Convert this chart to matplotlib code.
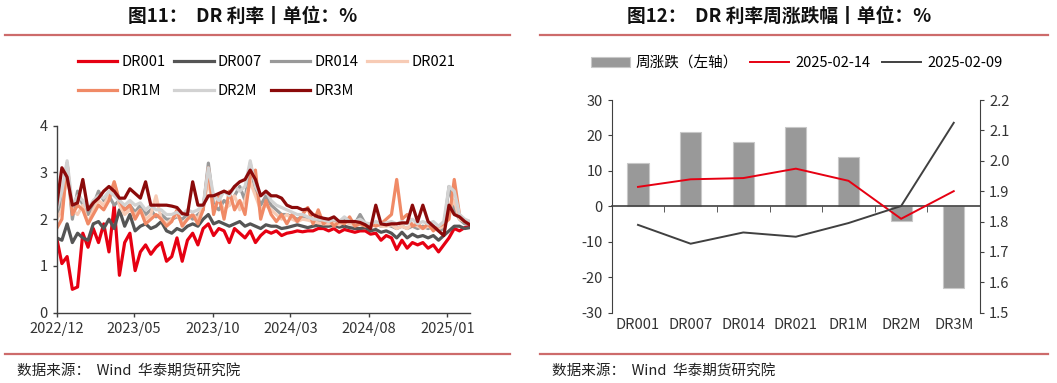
import numpy as np
import pandas as pd
import matplotlib
matplotlib.use("Agg")
import matplotlib.pyplot as plt
import matplotlib.dates as mdates
from matplotlib.lines import Line2D

plt.rcParams['font.family'] = ['Noto Sans CJK SC', 'DejaVu Sans']
plt.rcParams['axes.unicode_minus'] = False

# ---- 左图：DR 利率（约每 10 天取一个读数）----
dates = pd.date_range("2022-12-01", "2025-02-14", periods=80)

dr001 = [1.6, 1.05, 1.2, 0.5, 0.55, 1.7, 1.4, 1.8, 1.5, 1.9,
         1.3, 2.3, 0.8, 1.5, 1.7, 0.9, 1.3, 1.45, 1.25, 1.4,
         1.5, 1.1, 1.2, 1.6, 1.1, 1.55, 1.7, 1.45, 1.8, 1.9,
         1.65, 1.8, 1.75, 1.5, 1.8, 1.7, 1.6, 1.75, 1.5, 1.65,
         1.75, 1.7, 1.75, 1.65, 1.7, 1.72, 1.75, 1.73, 1.75, 1.75,
         1.8, 1.8, 1.75, 1.8, 1.72, 1.78, 1.75, 1.72, 1.75, 1.75,
         1.68, 1.7, 1.55, 1.65, 1.6, 1.35, 1.55, 1.38, 1.5, 1.45,
         1.5, 1.38, 1.45, 1.3, 1.45, 1.6, 1.8, 1.75, 1.82, 1.85]
dr007 = [1.6, 1.55, 1.9, 1.5, 1.7, 1.6, 1.55, 1.9, 1.95, 1.8,
         2.0, 1.8, 2.2, 1.85, 2.1, 1.75, 1.85, 1.9, 1.8, 1.85,
         1.95, 1.75, 1.7, 1.8, 1.75, 1.85, 1.9, 1.85, 2.0, 2.1,
         1.9, 1.95, 1.9, 1.85, 1.9, 1.95, 1.85, 1.9, 1.85, 1.8,
         1.88, 1.85, 1.85, 1.8, 1.82, 1.85, 1.88, 1.85, 1.82, 1.85,
         1.87, 1.85, 1.85, 1.87, 1.83, 1.85, 1.82, 1.8, 1.8, 1.82,
         1.75, 1.78, 1.72, 1.75, 1.7, 1.6, 1.72, 1.6, 1.68, 1.62,
         1.65, 1.6, 1.65, 1.55, 1.65, 1.75, 1.85, 1.85, 1.8, 1.82]
dr014 = [2.1, 2.4, 3.2, 2.0, 2.6, 2.3, 2.1, 2.3, 2.6, 2.4,
         2.5, 2.3, 2.4, 2.2, 2.3, 2.15, 2.3, 2.1, 2.2, 2.05,
         2.1, 2.0, 2.0, 2.05, 2.0, 2.1, 2.0, 2.1, 2.2, 3.2,
         2.3, 2.2, 2.4, 2.3, 2.5, 2.7, 2.4, 3.2, 2.6, 2.3,
         2.5, 2.3, 2.2, 2.1, 2.1, 2.05, 2.0, 2.05, 2.0, 1.95,
         1.95, 1.95, 1.92, 1.95, 1.9, 2.0, 1.92, 1.9, 2.1, 1.9,
         1.85, 1.9, 1.85, 1.88, 1.85, 1.8, 1.85, 1.8, 1.85, 1.8,
         1.85, 1.8, 1.85, 1.75, 1.8, 2.7, 2.2, 2.0, 1.9, 1.9]
dr021 = [2.0, 2.2, 3.0, 2.2, 2.1, 2.3, 1.9, 2.2, 2.4, 2.3,
         2.5, 2.8, 2.3, 2.1, 2.2, 2.1, 2.2, 2.0, 2.1, 2.5,
         2.0, 1.9, 2.0, 2.1, 1.9, 2.0, 2.1, 2.0, 2.3, 2.8,
         2.2, 2.4, 2.2, 2.3, 2.5, 2.2, 2.4, 2.8, 2.5, 2.2,
         2.3, 2.2, 2.1, 2.0, 2.1, 2.0, 1.95, 2.0, 1.98, 1.95,
         1.92, 1.9, 1.9, 1.92, 1.88, 1.95, 1.9, 1.88, 1.95, 1.9,
         1.85, 1.9, 1.85, 1.85, 1.88, 1.8, 1.85, 1.8, 1.9, 1.85,
         1.8, 1.85, 1.8, 1.8, 1.85, 2.2, 2.4, 2.0, 1.95, 1.9]
dr1m = [1.8, 2.0, 3.2, 2.1, 2.3, 2.2, 1.9, 2.1, 2.3, 2.2,
        2.4, 2.8, 2.4, 2.2, 2.3, 2.0, 2.2, 1.9, 2.0, 2.1,
        2.0, 1.85, 1.95, 2.2, 1.85, 2.0, 2.1, 1.9, 2.2, 3.1,
        2.1, 2.5, 2.0, 2.6, 2.2, 2.4, 2.1, 2.9, 3.05, 2.0,
        2.4, 2.1, 1.95, 2.1, 1.9, 2.1, 1.95, 2.1, 2.25, 1.9,
        2.2, 1.9, 2.0, 1.85, 1.95, 1.9, 2.05, 1.85, 1.9, 1.85,
        1.9, 1.85, 1.9, 2.0, 2.1, 2.85, 2.0, 2.1, 1.85, 1.9,
        1.8, 1.9, 1.75, 1.85, 1.9, 2.0, 2.85, 2.1, 1.95, 1.95]
dr2m = [2.2, 2.6, 3.25, 2.3, 2.5, 2.4, 2.2, 2.4, 2.5, 2.45,
        2.6, 2.5, 2.4, 2.3, 2.4, 2.3, 2.35, 2.2, 2.3, 2.2,
        2.2, 2.1, 2.1, 2.15, 2.1, 2.2, 2.15, 2.2, 2.3, 3.1,
        2.5, 2.4, 2.6, 2.5, 2.7, 2.6, 2.7, 3.25, 2.7, 2.5,
        2.6, 2.4, 2.3, 2.25, 2.2, 2.15, 2.1, 2.1, 2.05, 2.0,
        2.0, 1.98, 1.95, 2.0, 1.95, 2.05, 1.95, 1.95, 2.0, 1.92,
        1.9, 1.95, 1.9, 1.92, 1.95, 1.9, 1.95, 1.9, 2.0, 1.9,
        1.95, 1.9, 1.95, 1.85, 1.95, 2.7, 2.6, 2.1, 2.0, 1.95]
dr3m = [2.3, 3.1, 2.9, 2.3, 2.35, 2.85, 2.2, 2.35, 2.45, 2.6,
        2.7, 2.6, 2.45, 2.45, 2.65, 2.55, 2.45, 2.8, 2.3, 2.3,
        2.3, 2.3, 2.28, 2.25, 2.12, 2.1, 2.8, 2.3, 2.3, 2.5,
        2.5, 2.55, 2.6, 2.55, 2.7, 2.8, 2.85, 3.05, 2.85, 2.5,
        2.6, 2.5, 2.5, 2.45, 2.3, 2.25, 2.25, 2.2, 2.22, 2.1,
        2.05, 2.02, 2.0, 2.05, 1.95, 1.95, 1.95, 1.95, 1.93, 1.88,
        1.8, 2.3, 1.9, 1.88, 1.9, 1.9, 1.92, 1.92, 2.3, 1.95,
        2.3, 1.95, 1.85, 1.75, 1.65, 2.3, 2.1, 2.05, 1.95, 1.88]

series_names = ["DR001", "DR007", "DR014", "DR021", "DR1M", "DR2M", "DR3M"]
series_vals = [dr001, dr007, dr014, dr021, dr1m, dr2m, dr3m]
series_colors = ["#e60012", "#555555", "#999999", "#f7cbb5",
                 "#f08a66", "#d2d2d2", "#8b0a0a"]

# ---- 右图：DR 利率周涨跌 ----
cats = ["DR001", "DR007", "DR014", "DR021", "DR1M", "DR2M", "DR3M"]
week_chg = [12.2, 21.1, 18.1, 22.4, 13.9, -4.1, -22.9]
rate_0214 = [1.914, 1.939, 1.943, 1.974, 1.934, 1.809, 1.900]
rate_0209 = [1.789, 1.727, 1.764, 1.750, 1.795, 1.851, 2.125]

fig = plt.figure(figsize=(10.57, 3.83), dpi=100)
axis_col = "#404040"
sep_col = "#cd6b6b"

# ================= 左图 =================
ax = fig.add_axes([0.0536, 0.1836, 0.391, 0.4882])
handles = []
for name, vals, col in zip(series_names, series_vals, series_colors):
    h, = ax.plot(dates, vals, color=col, lw=2.3, label=name)
    handles.append(h)

ax.set_ylim(0, 4)
ax.set_yticks([0, 1, 2, 3, 4])
ax.set_xlim(pd.Timestamp("2022-12-01"), pd.Timestamp("2025-02-14"))
ax.set_xticks(pd.to_datetime(["2022-12-01", "2023-05-01", "2023-10-01",
                              "2024-03-01", "2024-08-01", "2025-01-01"]))
ax.xaxis.set_major_formatter(mdates.DateFormatter("%Y/%m"))
for s in ["top", "right"]:
    ax.spines[s].set_visible(False)
for s in ["left", "bottom"]:
    ax.spines[s].set_color(axis_col)
    ax.spines[s].set_linewidth(1.0)
ax.tick_params(axis="both", colors=axis_col, labelcolor="#333333",
               labelsize=10.5, length=3, width=1.0, direction="out")

order = [0, 4, 1, 5, 2, 6, 3]
fig.legend([handles[i] for i in order], [series_names[i] for i in order],
           loc="center", bbox_to_anchor=(0.252, 0.80), ncol=4, frameon=False,
           fontsize=10.5, handlelength=2.7, handletextpad=0.3,
           columnspacing=0.6, labelspacing=1.0)

# ================= 右图 =================
axr = fig.add_axes([0.5787, 0.1836, 0.3485, 0.5553])
x = np.arange(len(cats))
bar = axr.bar(x, week_chg, width=0.4, color="#999999",
              edgecolor="#c8c8c8", linewidth=0.8, label="周涨跌（左轴）", zorder=2)
axr.set_ylim(-30, 30)
axr.set_yticks([-30, -20, -10, 0, 10, 20, 30])
axr.set_xlim(-0.5, len(cats) - 0.5)

axr.spines["top"].set_visible(False)
axr.spines["right"].set_visible(False)
axr.spines["left"].set_color(axis_col)
axr.spines["bottom"].set_position(("data", 0))
axr.spines["bottom"].set_color(axis_col)
axr.spines["bottom"].set_linewidth(1.2)
axr.set_xticks(x)
axr.set_xticks(np.arange(0.5, len(cats) - 0.5, 1.0), minor=True)
axr.tick_params(axis="x", which="major", length=0, labelbottom=False)
axr.tick_params(axis="x", which="minor", length=4, direction="out",
                colors=axis_col)
axr.tick_params(axis="y", colors=axis_col, labelcolor="#333333",
                labelsize=10.5, length=3, direction="out")

sec = axr.secondary_xaxis("bottom")
sec.set_xticks(x)
sec.set_xticklabels(cats)
sec.spines["bottom"].set_visible(False)
sec.tick_params(length=0, labelsize=10.5, labelcolor="#333333", pad=4)

ax2 = axr.twinx()
ax2.set_position([0.5787, 0.1836, 0.3485, 0.5553])
l1, = ax2.plot(x, rate_0214, color="#e60012", lw=1.4, label="2025-02-14")
l2, = ax2.plot(x, rate_0209, color="#404040", lw=1.4, label="2025-02-09")
ax2.set_ylim(1.5, 2.2)
ax2.set_yticks(np.round(np.arange(1.5, 2.21, 0.1), 1))
ax2.yaxis.set_major_formatter(matplotlib.ticker.FormatStrFormatter("%.1f"))
for s in ["top", "left", "bottom"]:
    ax2.spines[s].set_visible(False)
ax2.spines["right"].set_color(axis_col)
ax2.tick_params(axis="y", colors=axis_col, labelcolor="#333333",
                labelsize=10.5, length=3, direction="out")

fig.legend([bar, l1, l2], ["周涨跌（左轴）", "2025-02-14", "2025-02-09"],
           loc="center", bbox_to_anchor=(0.7536, 0.835), ncol=3, frameon=False,
           fontsize=10.5, handlelength=2.7, handletextpad=0.4,
           columnspacing=0.8)

# ================= 标题、分隔线、来源 =================
fig.text(0.230, 0.956, "图11：  DR 利率丨单位：%", ha="center", va="center",
         fontsize=13.5, fontweight="bold", color="#111111")
fig.text(0.7375, 0.956, "图12：  DR 利率周涨跌幅丨单位：%", ha="center",
         va="center", fontsize=13.5, fontweight="bold", color="#111111")

for x0, x1 in [(5, 510), (540, 1048)]:
    for yy in [348 / 383, 29.5 / 383]:
        fig.add_artist(Line2D([x0 / 1057, x1 / 1057], [yy, yy],
                              color=sep_col, lw=1.6))

fig.text(17 / 1057, 0.033, "数据来源：  Wind  华泰期货研究院", ha="left",
         va="center", fontsize=10.5, color="#222222")
fig.text(552 / 1057, 0.033, "数据来源：  Wind  华泰期货研究院", ha="left",
         va="center", fontsize=10.5, color="#222222")

fig.savefig("out.png", dpi=100)
